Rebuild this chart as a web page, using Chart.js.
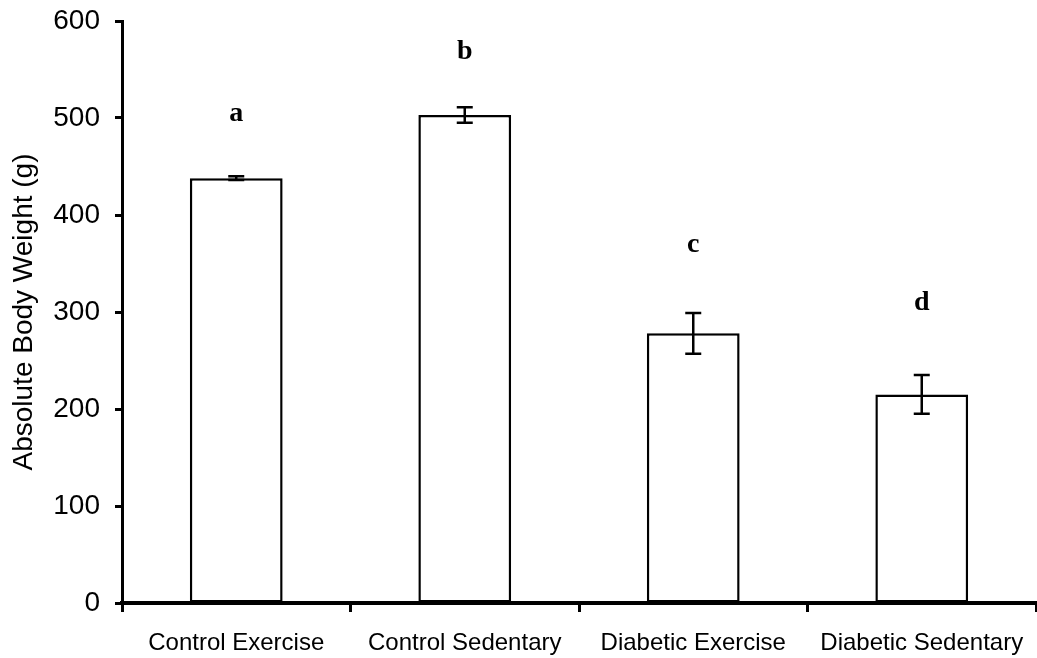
<!DOCTYPE html>
<html>
<head>
<meta charset="utf-8">
<script src="https://cdn.jsdelivr.net/npm/chart.js@4.4.0/dist/chart.umd.min.js"></script>
<style>
  html, body { margin: 0; padding: 0; background: #fff; }
  #wrap { width: 1037px; height: 658px; }
</style>
</head>
<body>
<div id="wrap"><canvas id="c" width="1037" height="658"></canvas></div>
<script>
const categories = ["Control Exercise", "Control Sedentary", "Diabetic Exercise", "Diabetic Sedentary"];
const bodyWeight = [438, 503, 278, 215];
const errorSE = [2, 8, 21, 20];
const groupLetters = ["a", "b", "c", "d"];
const letterLevel = [497, 561, 362, 302];
const yTicks = [0, 100, 200, 300, 400, 500, 600];

const overlayPlugin = {
  id: 'overlay',
  afterDatasetsDraw(chart) {
    const ctx = chart.ctx;
    const x = chart.scales.x, y = chart.scales.y;
    ctx.save();
    ctx.strokeStyle = '#000';
    ctx.lineWidth = 2.5;
    bodyWeight.forEach((v, i) => {
      const cx = x.getPixelForValue(i);
      const yt = y.getPixelForValue(v + errorSE[i]);
      const yb = y.getPixelForValue(v - errorSE[i]);
      const hw = 8;
      ctx.beginPath();
      ctx.moveTo(cx, yt); ctx.lineTo(cx, yb);
      ctx.moveTo(cx - hw, yt); ctx.lineTo(cx + hw, yt);
      ctx.moveTo(cx - hw, yb); ctx.lineTo(cx + hw, yb);
      ctx.stroke();
    });
    ctx.fillStyle = '#000';
    ctx.font = 'bold 28px "Liberation Serif", "Times New Roman", serif';
    ctx.textAlign = 'center';
    ctx.textBaseline = 'alphabetic';
    groupLetters.forEach((t, i) => {
      ctx.fillText(t, x.getPixelForValue(i), y.getPixelForValue(letterLevel[i]));
    });
    ctx.restore();
  }
};

new Chart(document.getElementById('c'), {
  type: 'bar',
  data: {
    labels: categories,
    datasets: [{
      data: bodyWeight,
      backgroundColor: '#fff',
      borderColor: '#000',
      borderWidth: 2.5,
      borderSkipped: false,
      categoryPercentage: 1,
      barPercentage: 0.406
    }]
  },
  options: {
    responsive: false,
    animation: false,
    devicePixelRatio: 1,
    layout: { padding: { top: 21, right: 1, left: 0, bottom: 0 } },
    plugins: { legend: { display: false }, tooltip: { enabled: false } },
    scales: {
      x: {
        grid: { display: true, drawOnChartArea: false, drawTicks: true, tickLength: 9, tickWidth: 3, tickColor: '#000', offset: true },
        border: { display: true, color: '#000', width: 4 },
        ticks: { color: '#000', padding: 17, maxRotation: 0, autoSkip: false,
          font: { family: '"Liberation Sans", Arial, sans-serif', size: 24 } },
        afterFit(s) { s.height = 55; s.paddingLeft = 0; s.paddingRight = 0; }
      },
      y: {
        min: 0, max: 600,
        afterBuildTicks(s) { s.ticks = yTicks.map(v => ({ value: v })); },
        grid: { display: true, drawOnChartArea: false, drawTicks: true, tickLength: 7, tickWidth: 3, tickColor: '#000' },
        border: { display: true, color: '#000', width: 3 },
        ticks: { color: '#000', padding: 15,
          font: { family: '"Liberation Sans", Arial, sans-serif', size: 28 } },
        title: { display: true, text: 'Absolute Body Weight (g)', color: '#000',
          padding: { top: 7, bottom: 0 },
          font: { family: '"Liberation Sans", Arial, sans-serif', size: 28 } },
        afterFit(s) { s.width = 122; s.paddingTop = 0; s.paddingBottom = 0; }
      }
    }
  },
  plugins: [overlayPlugin]
});
</script>
</body>
</html>
